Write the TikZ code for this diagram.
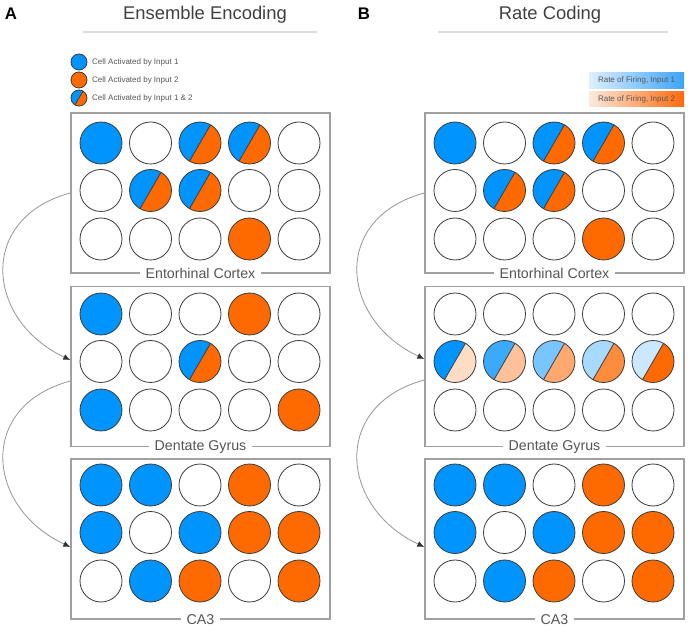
\documentclass[tikz,border=0pt]{standalone}
\usepackage{fontspec}
\setmainfont{Liberation Sans}
\usetikzlibrary{arrows.meta,calc}
\definecolor{cblue}{RGB}{0,148,255}
\definecolor{corange}{RGB}{255,106,0}
\definecolor{boxgray}{RGB}{160,160,160}
\definecolor{labgray}{RGB}{85,85,85}
\definecolor{titlegray}{RGB}{64,64,64}
\definecolor{rulegray}{RGB}{220,220,220}
\definecolor{cellgray}{RGB}{60,60,60}
\definecolor{conngray}{RGB}{150,150,150}
\definecolor{tipgray}{RGB}{50,50,50}
\definecolor{rba}{RGB}{0,148,255}
\definecolor{rbb}{RGB}{58,170,255}
\definecolor{rbc}{RGB}{120,197,255}
\definecolor{rbd}{RGB}{168,218,255}
\definecolor{rbe}{RGB}{204,232,255}
\definecolor{roa}{RGB}{255,220,196}
\definecolor{rob}{RGB}{255,193,153}
\definecolor{roc}{RGB}{255,168,112}
\definecolor{rod}{RGB}{255,140,60}
\definecolor{roe}{RGB}{255,106,0}
\definecolor{lbl}{RGB}{222,239,255}
\definecolor{lbr}{RGB}{60,165,245}
\definecolor{lol}{RGB}{253,234,222}
\definecolor{lor}{RGB}{255,106,10}

\newcommand\halfcell[4]{%
  \fill[#3] (#1) ++(60:#2) arc[start angle=60,end angle=240,radius=#2] -- cycle;
  \fill[#4] (#1) ++(240:#2) arc[start angle=240,end angle=420,radius=#2] -- cycle;
  \draw[cellline] (#1) ++(240:#2) -- ++(60:2*#2);
  \draw[cellline] (#1) circle[radius=#2];}
\newcommand\cellW[1]{\draw[cellline,fill=white] (#1) circle[radius=21pt];}
\newcommand\cellB[1]{\draw[cellline,fill=cblue] (#1) circle[radius=21pt];}
\newcommand\cellO[1]{\draw[cellline,fill=corange] (#1) circle[radius=21pt];}
\newcommand\cellS[1]{\halfcell{#1}{21pt}{cblue}{corange}}
\newcommand\cellRa[1]{\halfcell{#1}{21pt}{rba}{roa}}
\newcommand\cellRb[1]{\halfcell{#1}{21pt}{rbb}{rob}}
\newcommand\cellRc[1]{\halfcell{#1}{21pt}{rbc}{roc}}
\newcommand\cellRd[1]{\halfcell{#1}{21pt}{rbd}{rod}}
\newcommand\cellRe[1]{\halfcell{#1}{21pt}{rbe}{roe}}
\newcommand\cellrow[3]{\foreach \ct [count=\ci from 0] in {#3} {\csname cell\ct\endcsname{#1+\ci*49.5,#2}}}

\begin{document}
\begin{tikzpicture}[x=1pt,y=-1pt,
  region/.style={draw=boxgray, line width=1.4pt, minimum width=259pt, minimum height=160pt, inner sep=0pt},
  lab/.style={fill=white, text=labgray, inner xsep=6pt, inner ysep=1pt, font=\fontsize{14.2}{16}\selectfont},
  cellline/.style={draw=cellgray, line width=0.8pt},
  conn/.style={draw=conngray, line width=0.8pt, -{Latex[length=7pt,width=6pt,color=tipgray]}},
  paneltitle/.style={text=titlegray, font=\fontsize{18.4}{22}\selectfont, anchor=base, inner sep=0pt},
  panelletter/.style={text=black, font=\bfseries\fontsize{16.8}{20}\selectfont, anchor=base, inner sep=0pt},
  legtext/.style={text=labgray, font=\fontsize{8}{9.6}\selectfont, anchor=west, inner sep=0pt},
  ratebox/.style={minimum width=95pt, minimum height=15.5pt, inner sep=0pt, text=labgray, font=\fontsize{8}{9.6}\selectfont},
  titlerule/.style={draw=rulegray, line width=1.2pt}]
\useasboundingbox (0,0) rectangle (689,628);

% panel headers
\node[panelletter] (letA) at (11,19.3) {A};
\node[paneltitle] (titA) at (205,19.5) {Ensemble Encoding};
\coordinate (ruleAl) at (83,32);
\coordinate (ruleAr) at (317,32);
\draw[titlerule] (ruleAl) -- (ruleAr);
\node[panelletter] (letB) at (364,19.3) {B};
\node[paneltitle] (titB) at (550,19.5) {Rate Coding};
\coordinate (ruleBl) at (438,32);
\coordinate (ruleBr) at (668,32);
\draw[titlerule] (ruleBl) -- (ruleBr);

% legend A
\draw[cellline,fill=cblue] (79,62) circle[radius=8pt];
\draw[cellline,fill=corange] (79,80) circle[radius=8pt];
\halfcell{79,98}{8pt}{cblue}{corange}
\node[legtext] (legA1) at (92,62) {Cell Activated by Input 1};
\node[legtext] (legA2) at (92,80) {Cell Activated by Input 2};
\node[legtext] (legA3) at (92,98) {Cell Activated by Input 1 \& 2};

% legend B
\node[ratebox, left color=lbl, right color=lbr] (legB1) at (636.5,80.5) {Rate of Firing, Input 1};
\node[ratebox, left color=lol, right color=lor] (legB2) at (636.5,99) {Rate of Firing, Input 2};

% region boxes
\node[region] (ecA) at (200.5,193) {};
\node[region] (dgA) at (200.5,366.5) {};
\node[region] (caA) at (200.5,539) {};
\node[region] (ecB) at (554.5,193) {};
\node[region] (dgB) at (554.5,366.5) {};
\node[region] (caB) at (554.5,539) {};

% panel A cells
\cellrow{101}{143}{B,W,S,S,W}
\cellrow{101}{190.5}{W,S,S,W,W}
\cellrow{101}{239}{W,W,W,O,W}
\cellrow{101}{314}{B,W,W,O,W}
\cellrow{101}{361.5}{W,W,S,W,W}
\cellrow{101}{410}{B,W,W,W,O}
\cellrow{101}{485}{B,B,W,O,W}
\cellrow{101}{532.5}{B,W,B,O,O}
\cellrow{101}{581}{W,B,O,W,O}

% panel B cells
\cellrow{455}{143}{B,W,S,S,W}
\cellrow{455}{190.5}{W,S,S,W,W}
\cellrow{455}{239}{W,W,W,O,W}
\cellrow{455}{314}{W,W,W,W,W}
\cellrow{455}{361.5}{Ra,Rb,Rc,Rd,Re}
\cellrow{455}{410}{W,W,W,W,W}
\cellrow{455}{485}{B,B,W,O,W}
\cellrow{455}{532.5}{B,W,B,O,O}
\cellrow{455}{581}{W,B,O,W,O}

% region labels
\node[lab] (ecAl) at (ecA.south) {Entorhinal Cortex};
\node[lab] (dgAl) at (dgA.south) {Dentate Gyrus};
\node[lab] (caAl) at (caA.south) {CA3};
\node[lab] (ecBl) at (ecB.south) {Entorhinal Cortex};
\node[lab] (dgBl) at (dgB.south) {Dentate Gyrus};
\node[lab] (caBl) at (caB.south) {CA3};

% connectors
\draw[conn] (ecA.west) .. controls +(-93,25) and +(-85,-40) .. ([yshift=6.5pt]dgA.west);
\draw[conn] ([yshift=-14.5pt]dgA.west) .. controls +(-93,25) and +(-85,-40) .. ([yshift=-8pt]caA.west);
\draw[conn] (ecB.west) .. controls +(-93,25) and +(-85,-40) .. ([yshift=7.5pt]dgB.west);
\draw[conn] ([yshift=-13.5pt]dgB.west) .. controls +(-93,25) and +(-85,-40) .. ([yshift=-8pt]caB.west);
\end{tikzpicture}
\end{document}
